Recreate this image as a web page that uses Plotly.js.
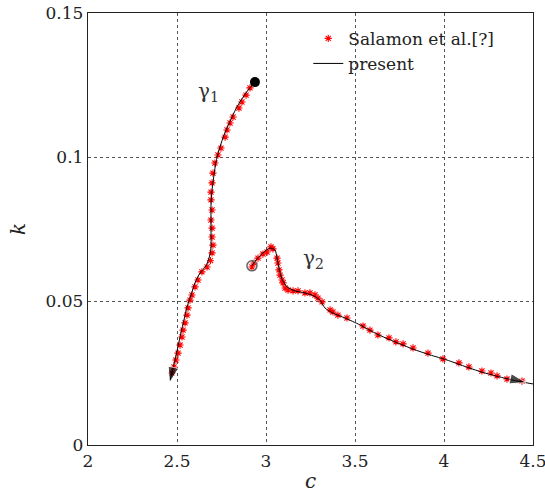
<!DOCTYPE html>
<html><head><meta charset="utf-8">
<script src="https://cdn.plot.ly/plotly-3.0.1.min.js"></script>
<style>html,body{margin:0;padding:0;background:#fff}#plot{width:545px;height:496px}</style>
</head><body><div id="plot"></div>
<script>
// present (line) – branch gamma1
const g1c = [2.938,2.904,2.871,2.837,2.809,2.781,2.758,2.736,2.719,2.708,2.697,2.691,2.691,2.691,2.691,2.680,2.663,2.629,2.601,2.579,2.556,2.539,2.522,2.506,2.489,2.472,2.461];
const g1k = [0.1260,0.1236,0.1208,0.1174,0.1139,0.1101,0.1066,0.1024,0.0983,0.0938,0.0885,0.0833,0.0781,0.0729,0.0684,0.0649,0.0622,0.0597,0.0563,0.0521,0.0479,0.0434,0.0389,0.0344,0.0295,0.0253,0.0226];
// present (line) – branch gamma2
const g2c = [2.921,2.949,2.983,3.022,3.051,3.062,3.073,3.090,3.118,3.163,3.219,3.270,3.303,3.331,3.376,3.444,3.528,3.624,3.725,3.826,3.921,4.017,4.112,4.213,4.315,4.410,4.500];
const g2k = [0.0622,0.0646,0.0667,0.0684,0.0677,0.0649,0.0615,0.0576,0.0549,0.0535,0.0528,0.0517,0.0503,0.0476,0.0458,0.0441,0.0417,0.0385,0.0358,0.0333,0.0313,0.0295,0.0274,0.0253,0.0236,0.0222,0.0212];
// Salamon et al. points – gamma1
const s1c = [2.910,2.888,2.865,2.848,2.815,2.798,2.781,2.770,2.747,2.730,2.713,2.702,2.697,2.691,2.691,2.697,2.691,2.697,2.697,2.702,2.697,2.688,2.669,2.640,2.618,2.601,2.584,2.573,2.562,2.556,2.545,2.534,2.528,2.517,2.506,2.494,2.483,2.472];
const s1k = [0.1240,0.1215,0.1191,0.1170,0.1139,0.1118,0.1094,0.1069,0.1031,0.1007,0.0979,0.0944,0.0910,0.0878,0.0851,0.0816,0.0781,0.0753,0.0722,0.0694,0.0667,0.0640,0.0618,0.0601,0.0573,0.0549,0.0521,0.0503,0.0476,0.0451,0.0424,0.0399,0.0375,0.0347,0.0319,0.0295,0.0271,0.0250];
// Salamon et al. points – gamma2
const s2c = [2.921,2.933,2.955,2.983,3.006,3.028,3.039,3.062,3.067,3.073,3.079,3.090,3.096,3.107,3.124,3.152,3.180,3.219,3.247,3.275,3.292,3.315,3.360,3.376,3.404,3.455,3.545,3.584,3.629,3.691,3.730,3.770,3.826,3.910,3.994,4.084,4.140,4.213,4.264,4.298,4.354,4.438];
const s2k = [0.0618,0.0632,0.0649,0.0663,0.0670,0.0688,0.0681,0.0649,0.0632,0.0608,0.0590,0.0573,0.0563,0.0545,0.0538,0.0535,0.0535,0.0528,0.0528,0.0521,0.0510,0.0497,0.0469,0.0462,0.0451,0.0441,0.0413,0.0399,0.0382,0.0372,0.0358,0.0351,0.0337,0.0319,0.0299,0.0285,0.0271,0.0257,0.0250,0.0240,0.0229,0.0222];
// arrow-head tips (gamma1, gamma2)
const tipC = [2.458, 4.46];
const tipK = [0.0215, 0.0217];
const xTicks = [2,2.5,3,3.5,4,4.5];
const xTickText = ['2','2.5','3','3.5','4','4.5'];
const yTicks = [0,0.05,0.1,0.15];
const yTickText = ['0','0.05','0.1','0.15'];

const F = 'DejaVu Serif';
const ast = {symbol:'asterisk-open', size:6, color:'#ff0000', line:{color:'#ff1010', width:1.1}};
const n1 = g1c.length, n2 = g2c.length;
const traces = [
  {x:s1c, y:s1k, mode:'markers', marker:ast, name:'Salamon et al.[?]', legendgroup:'s', showlegend:true},
  {x:s2c, y:s2k, mode:'markers', marker:ast, name:'Salamon et al.[?]', legendgroup:'s', showlegend:false},
  {x:g1c, y:g1k, mode:'lines', line:{color:'#000', width:1, shape:'spline', smoothing:0.6}, name:'present', legendgroup:'p', showlegend:true},
  {x:g2c, y:g2k, mode:'lines', line:{color:'#000', width:1, shape:'spline', smoothing:0.6}, name:'present', legendgroup:'p', showlegend:false},
  {x:[g1c[0]], y:[g1k[0]], mode:'markers', marker:{symbol:'circle', size:10, color:'#000'}, showlegend:false},
  {x:[g2c[0]], y:[g2k[0]], mode:'markers', marker:{symbol:'circle-open', size:10, color:'#666', line:{width:1.5, color:'#666'}}, showlegend:false},
  // arrow heads along direction of travel at branch ends
  {x:[g1c[n1-3], tipC[0]], y:[g1k[n1-3], tipK[0]], mode:'markers', marker:{symbol:'arrow', angleref:'previous', size:[0,17], color:'#000'}, showlegend:false},
  {x:[g2c[n2-4], tipC[1]], y:[g2k[n2-4], tipK[1]], mode:'markers', marker:{symbol:'arrow', angleref:'previous', size:[0,17], color:'#000'}, showlegend:false}
];
const annotations = [
  {x:2.675, y:0.1225, xref:'x', yref:'y', text:'γ<sub>1</sub>', showarrow:false, font:{family:F, size:20, color:'#333'}},
  {x:3.265, y:0.0645, xref:'x', yref:'y', text:'γ<sub>2</sub>', showarrow:false, font:{family:F, size:20, color:'#333'}}
];
const layout = {
  width:545, height:496,
  margin:{l:88, r:12, t:13, b:51},
  paper_bgcolor:'#fff', plot_bgcolor:'#fff',
  font:{family:F, size:17, color:'#222'},
  showlegend:true,
  legend:{x:0.495, y:0.982, xanchor:'left', yanchor:'top', bgcolor:'rgba(0,0,0,0)', itemwidth:30, tracegroupgap:0, font:{family:F, size:17, color:'#222'}},
  xaxis:{range:[2,4.5], tickvals:xTicks, ticktext:xTickText, showgrid:true, gridcolor:'#555', griddash:'dot', gridwidth:1,
    showline:true, linecolor:'#222', linewidth:1.2, mirror:true, zeroline:false, ticks:'', ticklen:0, ticklabeloverflow:'allow',
    tickfont:{family:F, size:17}, title:{text:'<i>c</i>', font:{family:F, size:20}, standoff:4}},
  yaxis:{range:[0,0.15], tickvals:yTicks, ticktext:yTickText, showgrid:true, gridcolor:'#555', griddash:'dot', gridwidth:1,
    showline:true, linecolor:'#222', linewidth:1.2, mirror:true, zeroline:false, ticks:'', ticklen:0,
    tickfont:{family:F, size:17}, title:{text:'<i>k</i>', font:{family:F, size:20}, standoff:14}},
  annotations:annotations
};
Plotly.newPlot('plot', traces, layout, {displayModeBar:false, staticPlot:true});
</script>
</body></html>
